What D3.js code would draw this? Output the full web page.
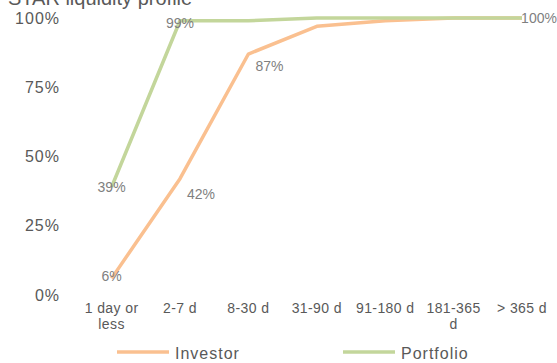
<!DOCTYPE html>
<html><head><meta charset="utf-8">
<script src="https://cdn.jsdelivr.net/npm/d3@7"></script>
<style>body{margin:0;background:#fff}svg{display:block;font-family:"Liberation Sans",Arial,sans-serif}</style>
</head><body><svg id="c" width="557" height="363"></svg>
<script>
const title = "STAR liquidity profile";
const categories = ["1 day or less","2-7 d","8-30 d","31-90 d","91-180 d","181-365 d","> 365 d"];
const categoryLines = [["1 day or","less"],["2-7 d"],["8-30 d"],["31-90 d"],["91-180 d"],["181-365","d"],["> 365 d"]];
const investor = [0.06,0.42,0.87,0.97,0.99,1.00,1.00];
const portfolio = [0.39,0.99,0.99,1.00,1.00,1.00,1.00];
const yTicks = [0,0.25,0.5,0.75,1];
const investorLabels = [0,1,2];      // indices with visible data labels
const portfolioLabels = [0,1,6];

const svg = d3.select("#c");
const x = d3.scaleBand().domain(categories).range([77.4,556.2]);
const y = d3.scaleLinear().domain([0,1]).range([295,18]);
const cx = c => x(c)+x.bandwidth()/2;

svg.append("text").attr("x",8).attr("y",5).attr("font-size",20).attr("fill","#595959").text(title);

svg.selectAll(".yt").data(yTicks).join("text")
  .attr("x",60).attr("y",d=>y(d)).attr("dy","0.35em").attr("text-anchor","end")
  .attr("font-size",16).attr("letter-spacing",1).attr("fill","#595959").text(d3.format(".0%"));

const xl = svg.selectAll(".xl").data(categories).join("text")
  .attr("x",d=>cx(d)).attr("y",313).attr("text-anchor","middle")
  .attr("font-size",14).attr("letter-spacing",0.4).attr("fill","#595959");
xl.each(function(d,i){
  d3.select(this).selectAll("tspan").data(categoryLines[i]).join("tspan")
    .attr("x",cx(d)).attr("dy",(t,j)=>j?16:0).text(t=>t);
});

const line = d3.line().x((d,i)=>cx(categories[i])).y(d=>y(d));
svg.append("path").datum(investor).attr("d",line).attr("fill","none")
  .attr("stroke","#FAC090").attr("stroke-width",3.5).attr("stroke-linejoin","round");
svg.append("path").datum(portfolio).attr("d",line).attr("fill","none")
  .attr("stroke","#C3D69B").attr("stroke-width",3.5).attr("stroke-linejoin","round");

const fmt = d3.format(".0%");
const invOff = [[0,-2],[21,15],[21,12]];
svg.selectAll(".il").data(investorLabels).join("text")
  .attr("x",(d,k)=>cx(categories[d])+invOff[k][0]).attr("y",(d,k)=>y(investor[d])+invOff[k][1])
  .attr("dy","0.35em").attr("text-anchor","middle").attr("font-size",14).attr("fill","#7f7f7f")
  .text(d=>fmt(investor[d]));
const porOff = [[0,0],[0,2],[17,0]];
svg.selectAll(".pl").data(portfolioLabels).join("text")
  .attr("x",(d,k)=>cx(categories[d])+porOff[k][0]).attr("y",(d,k)=>y(portfolio[d])+porOff[k][1])
  .attr("dy","0.35em").attr("text-anchor","middle").attr("font-size",14).attr("fill","#7f7f7f")
  .text(d=>fmt(portfolio[d]));

const legend = [{name:"Investor",color:"#FAC090",x:117},{name:"Portfolio",color:"#C3D69B",x:343}];
const lg = svg.selectAll(".lg").data(legend).join("g");
lg.append("line").attr("x1",d=>d.x).attr("x2",d=>d.x+52).attr("y1",352).attr("y2",352)
  .attr("stroke",d=>d.color).attr("stroke-width",3.5);
lg.append("text").attr("x",d=>d.x+58).attr("y",353).attr("dy","0.35em")
  .attr("font-size",16).attr("letter-spacing",1).attr("fill","#595959").text(d=>d.name);
</script></body></html>
